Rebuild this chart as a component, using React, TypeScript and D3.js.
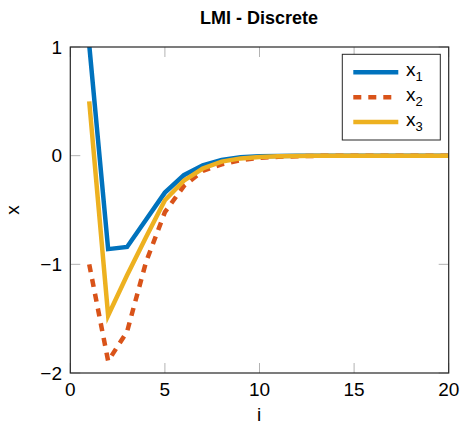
import React from "react";
import * as d3 from "d3";

const steps = [1, 2, 3, 4, 5, 6, 7, 8, 9, 10, 11, 12, 13, 14, 15, 16, 17, 18, 19, 20];
const x1 = [1.02, -0.86, -0.84, -0.59, -0.34, -0.18, -0.09, -0.04, -0.015, -0.006, -0.003, -0.001, 0, 0, 0, 0, 0, 0, 0, 0];
const x2 = [-1.0, -1.89, -1.62, -0.98, -0.52, -0.28, -0.14, -0.08, -0.042, -0.02, -0.01, -0.005, -0.002, -0.001, 0, 0, 0, 0, 0, 0];
const x3 = [0.5, -1.47, -1.1, -0.75, -0.41, -0.23, -0.118, -0.055, -0.025, -0.012, -0.006, -0.003, -0.001, 0, 0, 0, 0, 0, 0, 0];
const xTicks = [0, 5, 10, 15, 20];
const yTicks = [-2, -1, 0, 1];
const seriesNames = ["1", "2", "3"];
const colors = ["#0072BD", "#D95319", "#EDB120"];
const dashes = ["none", "8,7", "none"];

export default function App() {
  const W = 462, H = 426;
  const L = 70.3, R = 448.7, T = 47, B = 373;
  const x = d3.scaleLinear().domain([0, 20]).range([L, R]);
  const y = d3.scaleLinear().domain([-2, 1]).range([B, T]);
  const series = [x1, x2, x3];
  const line = d3.line<number>().x((_, i) => x(steps[i])).y((d) => y(d));
  const font = "Liberation Sans, Arial, Helvetica, sans-serif";
  const tickLen = 10;
  const tickColor = "#b3b3b3";
  const axisColor = "#262626";
  const minus = (v: number) => (v < 0 ? "\u2212" + Math.abs(v) : String(v));
  const lgX = 342.3, lgY = 54.3, lgW = 98, lgH = 85.7;
  return (
    <svg width={W} height={H} style={{ position: "absolute", left: 0, top: 0, fontFamily: font }}>
      <defs>
        <clipPath id="plot">
          <rect x={L} y={T} width={R - L} height={B - T} />
        </clipPath>
      </defs>
      <rect x={0} y={0} width={W} height={H} fill="#fff" />
      {/* ticks */}
      {xTicks.map((t) => (
        <g key={"xt" + t}>
          <line x1={x(t)} x2={x(t)} y1={B} y2={B - tickLen} stroke={tickColor} strokeWidth={1} />
          <line x1={x(t)} x2={x(t)} y1={T} y2={T + tickLen} stroke={tickColor} strokeWidth={1} />
        </g>
      ))}
      {yTicks.map((t) => (
        <g key={"yt" + t}>
          <line x1={L} x2={L + tickLen} y1={y(t)} y2={y(t)} stroke={tickColor} strokeWidth={1} />
          <line x1={R} x2={R - tickLen} y1={y(t)} y2={y(t)} stroke={tickColor} strokeWidth={1} />
        </g>
      ))}
      {/* lines */}
      <g clipPath="url(#plot)">
        {series.map((s, k) => (
          <path
            key={k}
            d={line(s) || ""}
            fill="none"
            stroke={colors[k]}
            strokeWidth={4.5}
            strokeDasharray={dashes[k]}
            strokeLinejoin="miter"
          />
        ))}
      </g>
      {/* box */}
      <rect x={L} y={T} width={R - L} height={B - T} fill="none" stroke={axisColor} strokeWidth={1.2} />
      {/* tick labels */}
      {xTicks.map((t) => (
        <text key={"xl" + t} x={x(t)} y={396} textAnchor="middle" fontSize={19} fill="#000">
          {t}
        </text>
      ))}
      {yTicks.map((t) => (
        <text key={"yl" + t} x={62} y={y(t)} dy="0.35em" textAnchor="end" fontSize={19} fill="#000">
          {minus(t)}
        </text>
      ))}
      {/* labels */}
      <text x={259} y={24} textAnchor="middle" fontSize={18} fontWeight="bold" fill="#000">
        LMI - Discrete
      </text>
      <text x={259} y={421} textAnchor="middle" fontSize={19} fill="#000">
        i
      </text>
      <text transform={`translate(19,210) rotate(-90)`} textAnchor="middle" fontSize={19} fill="#000">
        x
      </text>
      {/* legend */}
      <rect x={lgX} y={lgY} width={lgW} height={lgH} fill="#fff" stroke={axisColor} strokeWidth={1} />
      {seriesNames.map((n, k) => {
        const ry = 72.3 + k * 24.9;
        return (
          <g key={"lg" + k}>
            <line x1={353.3} x2={398.3} y1={ry} y2={ry} stroke={colors[k]} strokeWidth={4.5} strokeDasharray={dashes[k]} />
            <text x={406} y={ry + 4} fontSize={19} fill="#000">
              x
              <tspan fontSize={13} dy={5}>
                {n}
              </tspan>
            </text>
          </g>
        );
      })}
    </svg>
  );
}
